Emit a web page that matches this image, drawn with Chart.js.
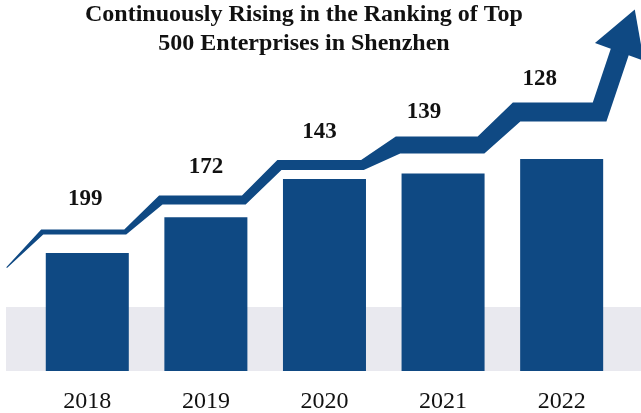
<!DOCTYPE html>
<html>
<head>
<meta charset="utf-8">
<script src="https://cdn.jsdelivr.net/npm/chart.js@4.4.1/dist/chart.umd.min.js"></script>
<style>
    html, body { margin: 0; padding: 0; background: #ffffff; }
    #wrap { position: relative; width: 641px; height: 413px; }
</style>
</head>
<body>
<div id="wrap"><canvas id="rankChart"></canvas></div>
<script>
// Shenzhen companies in the Fortune-style top 500 list: best rank per year
const years = ['2018', '2019', '2020', '2021', '2022'];
const ranks = [199, 172, 143, 139, 128];

const titleLines = [
    'Continuously Rising in the Ranking of Top',
    '500 Enterprises in Shenzhen',
];

const BLUE = '#0f4983';
const BAND = '#e9e9ef';
const SERIF = "'Liberation Serif', 'Times New Roman', serif";

// Axis windows (x in year slots, y in rank, reversed so better ranks sit higher)
const X_MIN = -0.736;
const X_MAX = 4.669;
const Y_TOP = 8;
const Y_BASE = 288;
const AXIS_H = 42;
const PX_X = 641 / (X_MAX - X_MIN);
const PX_Y = (413 - AXIS_H) / (Y_BASE - Y_TOP);

// Arrow shape: y offsets in rank units, x offsets in year slots
const ARROW = {
    gaps: [16, 13, 10.5, 21.5, 35.5],   // how far each step rides above its bar
    tailX: -0.68,
    tailDrop: 27,
    start: -0.38,     // step start, relative to the slot centre
    end: 0.32,        // step end
    shaftX: 4.50,
    shaftRise: 48,
    headX: 4.53,
    headRise: 56,
    tailWidth: 1,
    widths: [5, 9, 10, 17, 19],
};

const labelNudge = [-2, 0, -5, -19, -22];

const barPoints = ranks.map((r, i) => ({ x: i, y: r }));

// Centre line of the stepped arrow, built from the ranks
const levels = ranks.map((r, i) => r - ARROW.gaps[i]);
const last = levels[levels.length - 1];
const spine = [{ x: ARROW.tailX, y: levels[0] + ARROW.tailDrop }];
const halfW = [ARROW.tailWidth / 2];
levels.forEach((y, i) => {
    spine.push({ x: i + ARROW.start, y }, { x: i + ARROW.end, y });
    halfW.push(ARROW.widths[i] / 2, ARROW.widths[i] / 2);
});
spine.push({ x: ARROW.shaftX, y: last - ARROW.shaftRise });
halfW.push(ARROW.widths[ARROW.widths.length - 1] / 2);

// Turn the centre line into a closed band outline (mitred corners, tapering width)
function bandOutline(pts, hw) {
    const P = pts.map(p => ({ x: p.x * PX_X, y: p.y * PX_Y }));
    const normal = (a, b) => {
        const dx = b.x - a.x, dy = b.y - a.y, l = Math.hypot(dx, dy);
        return { x: -dy / l, y: dx / l };
    };
    const upper = [];
    const lower = [];
    P.forEach((p, i) => {
        const n1 = i > 0 ? normal(P[i - 1], p) : null;
        const n2 = i < P.length - 1 ? normal(p, P[i + 1]) : null;
        let n = n1 || n2;
        if (n1 && n2) {
            const mx = n1.x + n2.x, my = n1.y + n2.y, ml = Math.hypot(mx, my);
            const s = 1 / ((mx / ml) * n1.x + (my / ml) * n1.y);
            n = { x: mx / ml * s, y: my / ml * s };
        }
        upper.push({ x: (p.x - n.x * hw[i]) / PX_X, y: (p.y - n.y * hw[i]) / PX_Y });
        lower.push({ x: (p.x + n.x * hw[i]) / PX_X, y: (p.y + n.y * hw[i]) / PX_Y });
    });
    return upper.concat(lower.reverse());
}
const arrowBand = bandOutline(spine, halfW);

// Grey strip behind the bar feet
const bandPlugin = {
    id: 'band',
    beforeDatasetsDraw(chart) {
        const { ctx, chartArea } = chart;
        ctx.save();
        ctx.fillStyle = BAND;
        ctx.fillRect(6, chartArea.bottom - 64, chart.width - 6, 64);
        ctx.restore();
    },
};

// Rank numbers above the arrow steps, plus the two-line heading
const textPlugin = {
    id: 'texts',
    afterDatasetsDraw(chart) {
        const { ctx } = chart;
        const bars = chart.getDatasetMeta(0).data;
        const yScale = chart.scales.y;
        ctx.save();
        ctx.fillStyle = '#111111';
        ctx.textAlign = 'center';
        ctx.textBaseline = 'middle';
        ctx.font = `bold 23px ${SERIF}`;
        bars.forEach((bar, i) => {
            const stepY = yScale.getPixelForValue(levels[i]);
            ctx.fillText(String(ranks[i]), bar.x + labelNudge[i], stepY - 33);
        });
        ctx.textBaseline = 'alphabetic';
        ctx.font = `bold 24px ${SERIF}`;
        ctx.fillText(titleLines[0], 304, 21);
        ctx.fillText(titleLines[1], 304, 50);
        ctx.restore();
    },
};

new Chart(document.getElementById('rankChart'), {
    type: 'bar',
    data: {
        datasets: [
            {
                label: 'Rank',
                data: barPoints,
                base: Y_BASE,
                backgroundColor: BLUE,
                barPercentage: 0.7,
                categoryPercentage: 1.0,
                grouped: false,
                order: 2,
            },
            {
                type: 'line',
                label: 'Arrow',
                data: arrowBand,
                fill: 'shape',
                backgroundColor: BLUE,
                borderWidth: 0,
                pointRadius: 0,
                tension: 0,
                clip: false,
                order: 1,
            },
            {
                type: 'line',
                label: 'Head',
                data: [{ x: ARROW.headX, y: last - ARROW.headRise }],
                showLine: false,
                pointStyle: 'triangle',
                pointRadius: 30,
                pointRotation: 20,
                backgroundColor: BLUE,
                borderColor: BLUE,
                borderWidth: 0,
                clip: false,
                order: 0,
            },
        ],
    },
    options: {
        responsive: true,
        maintainAspectRatio: false,
        animation: false,
        events: [],
        layout: { autoPadding: false, padding: 0 },
        plugins: {
            legend: { display: false },
            tooltip: { enabled: false },
        },
        scales: {
            x: {
                type: 'linear',
                min: X_MIN,
                max: X_MAX,
                bounds: 'data',
                offset: false,
                grid: { display: false, drawTicks: false },
                border: { display: false },
                ticks: {
                    autoSkip: false,
                    maxRotation: 0,
                    color: '#111111',
                    padding: 19,
                    font: { family: SERIF, size: 24, lineHeight: 1 },
                    callback: v => years[v] ?? '',
                },
                // one tick per year slot
                afterBuildTicks(scale) {
                    scale.ticks = years.map((_, i) => ({ value: i }));
                },
                afterFit(scale) {
                    scale.height = AXIS_H;
                },
            },
            y: {
                type: 'linear',
                display: false,
                reverse: true,
                min: Y_TOP,
                max: Y_BASE,
            },
        },
    },
    plugins: [bandPlugin, textPlugin],
});
</script>
</body>
</html>
